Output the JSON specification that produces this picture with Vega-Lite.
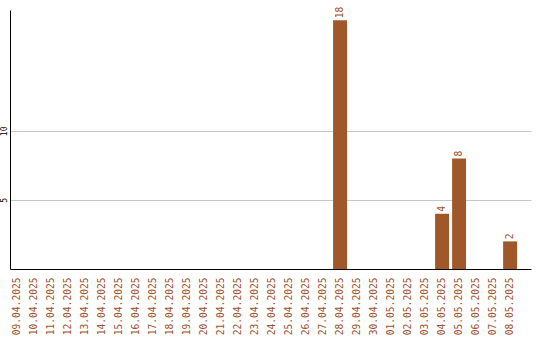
{
  "$schema": "https://vega.github.io/schema/vega-lite/v6.json",
  "width": 521,
  "height": 259,
  "autosize": "none",
  "padding": {"left": 10, "top": 10, "right": 9, "bottom": 71},
  "background": "#ffffff",
  "config": {
    "view": {"stroke": null},
    "axis": {"labelFont": "DejaVu Sans Mono", "domainColor": "#000000", "domainWidth": 1}
  },
  "data": {
    "values": [
      {"date": "09.04.2025", "count": 0},
      {"date": "10.04.2025", "count": 0},
      {"date": "11.04.2025", "count": 0},
      {"date": "12.04.2025", "count": 0},
      {"date": "13.04.2025", "count": 0},
      {"date": "14.04.2025", "count": 0},
      {"date": "15.04.2025", "count": 0},
      {"date": "16.04.2025", "count": 0},
      {"date": "17.04.2025", "count": 0},
      {"date": "18.04.2025", "count": 0},
      {"date": "19.04.2025", "count": 0},
      {"date": "20.04.2025", "count": 0},
      {"date": "21.04.2025", "count": 0},
      {"date": "22.04.2025", "count": 0},
      {"date": "23.04.2025", "count": 0},
      {"date": "24.04.2025", "count": 0},
      {"date": "25.04.2025", "count": 0},
      {"date": "26.04.2025", "count": 0},
      {"date": "27.04.2025", "count": 0},
      {"date": "28.04.2025", "count": 18},
      {"date": "29.04.2025", "count": 0},
      {"date": "30.04.2025", "count": 0},
      {"date": "01.05.2025", "count": 0},
      {"date": "02.05.2025", "count": 0},
      {"date": "03.05.2025", "count": 0},
      {"date": "04.05.2025", "count": 4},
      {"date": "05.05.2025", "count": 8},
      {"date": "06.05.2025", "count": 0},
      {"date": "07.05.2025", "count": 0},
      {"date": "08.05.2025", "count": 2}
    ]
  },
  "encoding": {
    "x": {
      "field": "date",
      "type": "ordinal",
      "sort": null,
      "scale": {"paddingInner": 0.18, "paddingOuter": 0.41, "align": 0},
      "axis": {
        "title": null,
        "labelAngle": -90,
        "labelColor": "#a0522d",
        "labelFontSize": 9.6,
        "labelPadding": 8,
        "ticks": false,
        "grid": false
      }
    },
    "y": {
      "field": "count",
      "type": "quantitative",
      "scale": {"domain": [0, 18.75], "nice": false},
      "axis": {
        "title": null,
        "values": [5, 10],
        "labelAngle": -90,
        "labelAlign": "center",
        "labelBaseline": "bottom",
        "labelFontSize": 8,
        "labelColor": "#000000",
        "labelPadding": 2,
        "ticks": false,
        "gridColor": "#c8c8c8",
        "gridWidth": 1
      }
    }
  },
  "layer": [
    {
      "mark": {"type": "bar", "color": "#a0572a"}
    },
    {
      "transform": [{"filter": "datum.count > 0"}],
      "mark": {
        "type": "text",
        "angle": -90,
        "align": "left",
        "baseline": "middle",
        "dx": 2,
        "font": "DejaVu Sans Mono",
        "fontSize": 9.6,
        "color": "#a0522d"
      },
      "encoding": {"text": {"field": "count", "type": "quantitative"}}
    }
  ]
}
